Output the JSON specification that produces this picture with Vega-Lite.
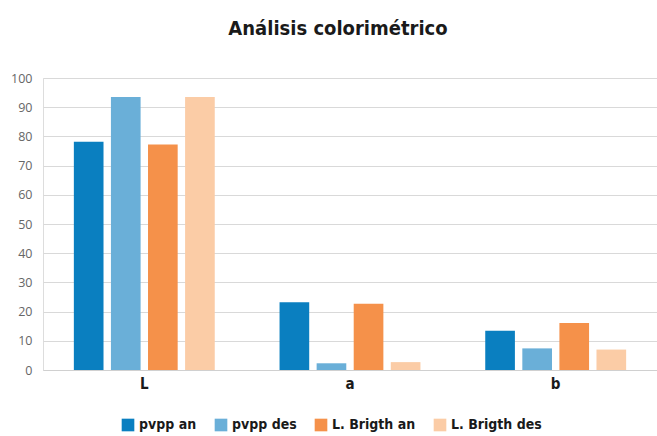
{
  "$schema": "https://vega.github.io/schema/vega-lite/v6.json",
  "autosize": "none",
  "padding": {"left": 43, "top": 78, "right": 0, "bottom": 66},
  "width": 614,
  "height": 292,
  "background": "white",
  "title": {
    "text": "Análisis colorimétrico",
    "font": "DejaVu Sans Condensed",
    "fontWeight": "bold",
    "fontSize": 20,
    "color": "#1a1a1a",
    "anchor": "middle",
    "dx": -12,
    "offset": 33
  },
  "data": {
    "values": [
      {"param": "L", "serie": "pvpp an", "valor": 78.2},
      {"param": "L", "serie": "pvpp des", "valor": 93.5},
      {"param": "L", "serie": "L. Brigth an", "valor": 77.2},
      {"param": "L", "serie": "L. Brigth des", "valor": 93.5},
      {"param": "a", "serie": "pvpp an", "valor": 23.2},
      {"param": "a", "serie": "pvpp des", "valor": 2.3},
      {"param": "a", "serie": "L. Brigth an", "valor": 22.7},
      {"param": "a", "serie": "L. Brigth des", "valor": 2.7},
      {"param": "b", "serie": "pvpp an", "valor": 13.4},
      {"param": "b", "serie": "pvpp des", "valor": 7.4},
      {"param": "b", "serie": "L. Brigth an", "valor": 16.1},
      {"param": "b", "serie": "L. Brigth des", "valor": 7.0}
    ]
  },
  "mark": {"type": "bar"},
  "encoding": {
    "x": {
      "field": "param",
      "type": "nominal",
      "sort": ["L", "a", "b"],
      "scale": {"paddingInner": 0.315, "paddingOuter": 0.15},
      "axis": {
        "title": null,
        "labelAngle": 0,
        "labelFont": "DejaVu Sans Condensed",
        "labelFontWeight": "bold",
        "labelFontSize": 15,
        "labelColor": "#1a1a1a",
        "labelPadding": 6,
        "ticks": false,
        "domainColor": "#d0d0d0",
        "grid": false
      }
    },
    "xOffset": {
      "field": "serie",
      "type": "nominal",
      "sort": ["pvpp an", "pvpp des", "L. Brigth an", "L. Brigth des"],
      "scale": {"paddingInner": 0.2}
    },
    "y": {
      "field": "valor",
      "type": "quantitative",
      "scale": {"domain": [0, 100]},
      "axis": {
        "title": null,
        "values": [0, 10, 20, 30, 40, 50, 60, 70, 80, 90, 100],
        "labelFont": "Open Sans",
        "labelFontSize": 12.5,
        "labelColor": "#666666",
        "labelPadding": 11,
        "ticks": false,
        "domain": false,
        "gridColor": "#d9d9d9",
        "gridWidth": 1.2
      }
    },
    "color": {
      "field": "serie",
      "type": "nominal",
      "sort": ["pvpp an", "pvpp des", "L. Brigth an", "L. Brigth des"],
      "scale": {
        "domain": ["pvpp an", "pvpp des", "L. Brigth an", "L. Brigth des"],
        "range": ["#0a7fc0", "#6aafd8", "#f5914a", "#fbcca6"]
      },
      "legend": {
        "title": null,
        "orient": "none",
        "direction": "horizontal",
        "legendX": 78,
        "legendY": 340,
        "symbolType": "square",
        "symbolSize": 160,
        "symbolStrokeWidth": 0,
        "labelFont": "DejaVu Sans Condensed",
        "labelFontWeight": "bold",
        "labelFontSize": 14,
        "labelColor": "#1a1a1a",
        "columnPadding": 17,
        "symbolOffset": 0
      }
    }
  }
}
